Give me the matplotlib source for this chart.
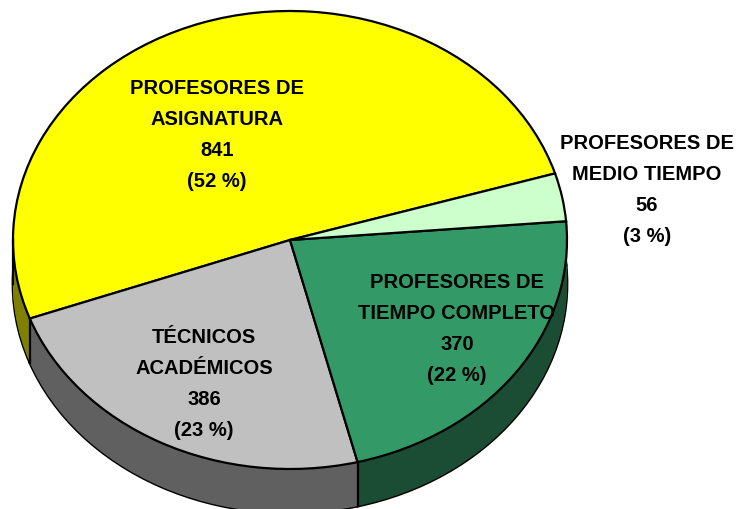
import numpy as np
from matplotlib import pyplot as plt

values = [841, 386, 370, 56]
top_colors = ['#ffff00', '#c0c0c0', '#339966', '#ccffcc']
side_colors = ['#808000', '#606060', '#1a4d33', '#668066']
labels = ['PROFESORES DE\nASIGNATURA\n841\n(52 %)',
          'TÉCNICOS\nACADÉMICOS\n386\n(23 %)',
          'PROFESORES DE\nTIEMPO COMPLETO\n370\n(22 %)',
          'PROFESORES DE\nMEDIO TIEMPO\n56\n(3 %)']
label_px = [(217, 135), (204, 384), (457, 329), (647, 190)]

W, H = 736, 510
CX, CY, RX, RY = 290, 241, 277, 229
DEPTH = 44 / RY
START = 16.9

plt.rcParams['font.family'] = ['Liberation Sans', 'DejaVu Sans']

fig = plt.figure(figsize=(W / 100, H / 100), dpi=100)
ax = fig.add_axes([0, 0, 1, 1])

# bottom outline first, the stacked layers hide its radial lines
ax.pie(values, colors=side_colors, startangle=START, center=(0, -DEPTH),
       wedgeprops=dict(edgecolor='black', linewidth=2))
for off in np.linspace(DEPTH, 0.004, 40):
    ax.pie(values, colors=side_colors, startangle=START, center=(0, -off),
           wedgeprops=dict(linewidth=0))

# vertical edges of the wall
bounds = START + np.cumsum([0] + values) / sum(values) * 360
for a in bounds:
    x, y = np.cos(np.radians(a)), np.sin(np.radians(a))
    if y < 0.1:
        ax.plot([x, x], [y, y - DEPTH], color='black', lw=1.6, zorder=0.5 if y > 0 else 5)
ax.plot([-1, -1], [0, -DEPTH], color='black', lw=1.6)

ax.pie(values, colors=top_colors, startangle=START, center=(0, 0),
       wedgeprops=dict(edgecolor='black', linewidth=1.6))

ax.set_aspect('auto')
ax.set_xlim(-CX / RX, (W - CX) / RX)
ax.set_ylim((CY - H) / RY, CY / RY)
ax.axis('off')

for text, (px, py) in zip(labels, label_px):
    ax.text((px - CX) / RX, (CY - py) / RY, text, ha='center', va='center',
            fontsize=14.5, fontweight='bold', linespacing=1.79, color='black', zorder=10)

fig.savefig('out.png', dpi=100)
